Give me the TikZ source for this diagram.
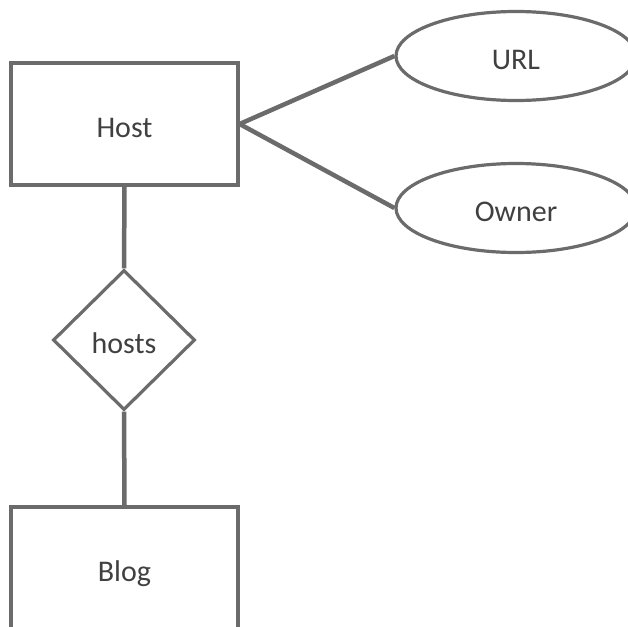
\documentclass[tikz,border=0pt]{standalone}
\usepackage{fontspec}
\setmainfont{Carlito}
\usetikzlibrary{shapes.geometric}
\definecolor{edgegray}{HTML}{6B6B6B}
\definecolor{textgray}{HTML}{404040}
\tikzset{
  erbase/.style={draw=edgegray, line width=3.2pt, fill=white, text=textgray,
    font=\fontsize{30}{33}\selectfont, inner sep=0pt,
    text height=27pt, text depth=0pt},
  entity/.style={erbase, rectangle, minimum width=227pt, minimum height=122pt},
  attrib/.style={erbase, ellipse, minimum width=240pt, minimum height=89pt},
  relation/.style={erbase, diamond, minimum width=142pt, minimum height=140pt},
  link/.style={draw=edgegray, line width=4.5pt}
}
\begin{document}
\begin{tikzpicture}[x=1pt, y=-1pt]
  \useasboundingbox (0,0) rectangle (628,626);
  \clip (0,0) rectangle (628,626);
  \fill[white] (0,0) rectangle (628,626);

  \node[entity]   (host)  at (124.5,124) {Host};
  \node[attrib]   (url)   at (516,56)    {URL};
  \node[attrib]   (owner) at (516,208)   {Owner};
  \node[relation] (hosts) at (124,340)   {hosts};
  \node[entity]   (blog)  at (124.5,568) {Blog};

  \draw[link] (host.east) -- (url.west);
  \draw[link] (host.east) -- (owner.west);
  \draw[link] (host.south) -- (hosts.north);
  \draw[link] (hosts.south) -- (blog.north);
\end{tikzpicture}
\end{document}
